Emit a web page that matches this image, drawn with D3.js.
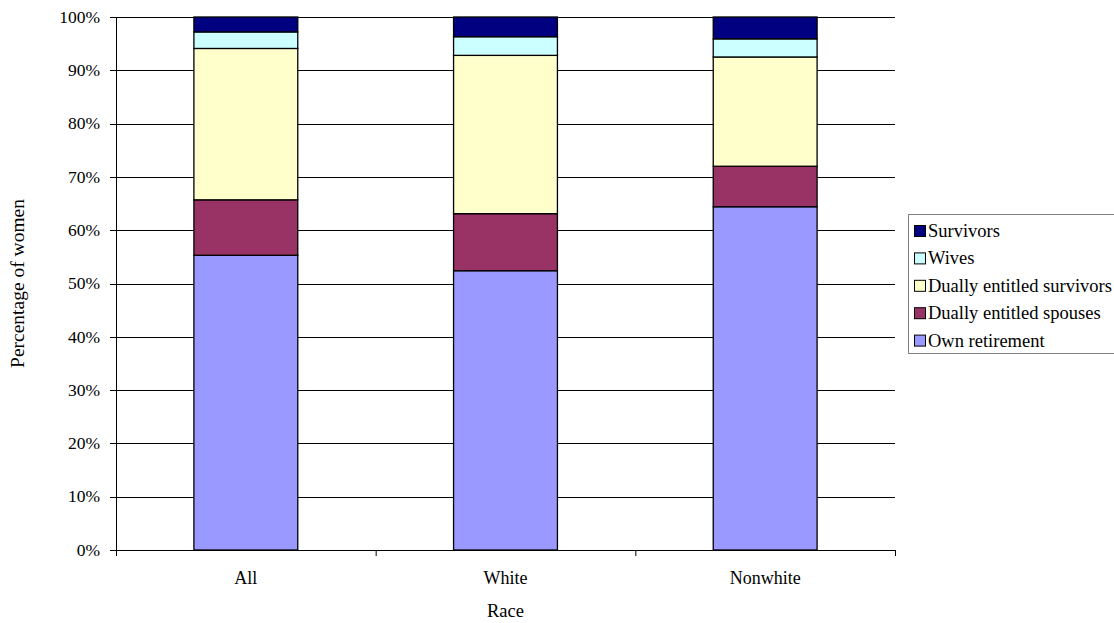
<!DOCTYPE html>
<html>
<head>
<meta charset="utf-8">
<script src="https://cdn.jsdelivr.net/npm/d3@7"></script>
</head>
<body style="margin:0;background:#fff">
<svg id="chart" width="1114" height="623"></svg>
<script>
// Share of women by type of benefit, by race (percent)
const categories = ["All", "White", "Nonwhite"];
const seriesNames = ["Own retirement", "Dually entitled spouses", "Dually entitled survivors", "Wives", "Survivors"];
const ownRetirement = [55.3, 52.4, 64.4];
const duallySpouses = [10.4, 10.7, 7.6];
const duallySurvivors = [28.4, 29.7, 20.5];
const wives = [3.1, 3.5, 3.4];
const survivors = [2.8, 3.7, 4.1];
const yTicks = [0, 10, 20, 30, 40, 50, 60, 70, 80, 90, 100];
const colors = ["#9999FF", "#993366", "#FFFFCC", "#CCFFFF", "#000080"];

const FONT = "Liberation Serif";
const setFont = (sel, size) => sel.style("font-family", `'${FONT}'`).style("font-size", size + "px");

const seriesValues = [ownRetirement, duallySpouses, duallySurvivors, wives, survivors];
const table = categories.map((c, i) => {
  const row = { category: c };
  seriesNames.forEach((s, j) => { row[s] = seriesValues[j][i]; });
  return row;
});

const svg = d3.select("#chart");
const margin = { left: 116, right: 219, top: 17, bottom: 73 };
const W = 1114, H = 623;
const innerW = W - margin.left - margin.right;
const innerH = H - margin.top - margin.bottom;
const g = svg.append("g").attr("transform", `translate(${margin.left},${margin.top})`);

const x = d3.scaleBand().domain(categories).range([0, innerW]).paddingInner(0.6).paddingOuter(0.3);
const xBand = d3.scaleBand().domain(categories).range([0, innerW]);
const y = d3.scaleLinear().domain([0, 100]).range([innerH, 0]);

// horizontal gridlines
g.append("g").selectAll("line").data(yTicks.filter(t => t > 0)).join("line")
  .attr("x1", 0).attr("x2", innerW)
  .attr("y1", d => Math.round(y(d)) + 0.5).attr("y2", d => Math.round(y(d)) + 0.5)
  .attr("stroke", "#000").attr("stroke-width", 1);

// stacked bars
const stack = d3.stack().keys(seriesNames)(table);
g.append("g").selectAll("g").data(stack).join("g")
  .attr("fill", (d, i) => colors[i])
  .selectAll("rect").data(d => d).join("rect")
  .attr("x", d => x(d.data.category))
  .attr("width", x.bandwidth())
  .attr("y", d => y(d[1]))
  .attr("height", d => y(d[0]) - y(d[1]))
  .attr("stroke", "#000").attr("stroke-width", 1.3);

// y axis, drawn by hand with the scale so the labels take the serif face
const yAxisG = g.append("g");
yAxisG.append("line").attr("x1", 0.5).attr("x2", 0.5).attr("y1", 0).attr("y2", innerH).attr("stroke", "#000");
yAxisG.selectAll("line.tick").data(yTicks).join("line").attr("class", "tick")
  .attr("x1", -6).attr("x2", 0).attr("y1", d => Math.round(y(d)) + 0.5).attr("y2", d => Math.round(y(d)) + 0.5)
  .attr("stroke", "#000");
setFont(yAxisG.selectAll("text").data(yTicks).join("text")
  .attr("x", -16).attr("y", d => y(d)).attr("dy", "0.33em")
  .attr("text-anchor", "end"), 17.5).text(d => d + "%");

// x axis: ticks at band boundaries
const xAxisG = g.append("g").attr("transform", `translate(0,${innerH})`);
xAxisG.append("line").attr("x1", 0).attr("x2", innerW).attr("y1", 0.5).attr("y2", 0.5).attr("stroke", "#000");
const bounds = [0].concat(categories.map(c => xBand(c) + xBand.bandwidth()));
xAxisG.selectAll("line.tick").data(bounds).join("line").attr("class", "tick")
  .attr("x1", d => d + 0.5).attr("x2", d => d + 0.5).attr("y1", 0).attr("y2", 6).attr("stroke", "#000");
setFont(xAxisG.selectAll("text").data(categories).join("text")
  .attr("x", d => x(d) + x.bandwidth() / 2).attr("y", 584 - margin.top - innerH)
  .attr("text-anchor", "middle"), 18).text(d => d);

// axis titles
setFont(svg.append("text").attr("x", margin.left + innerW / 2).attr("y", 617)
  .attr("text-anchor", "middle"), 18.5).text("Race");
setFont(svg.append("text").attr("transform", `translate(24,${margin.top + innerH / 2}) rotate(-90)`)
  .attr("text-anchor", "middle"), 19.5).text("Percentage of women");

// legend
const legend = svg.append("g").attr("transform", "translate(908,214)");
legend.append("rect").attr("x", 0.5).attr("y", 0.5).attr("width", 220).attr("height", 139)
  .attr("fill", "#fff").attr("stroke", "#808080");
const legendItems = seriesNames.slice().reverse();
legend.selectAll("g.item").data(legendItems).join("g").attr("class", "item")
  .attr("transform", (d, i) => `translate(0,${23 + i * 27.4})`)
  .each(function(d) {
    const idx = seriesNames.indexOf(d);
    const it = d3.select(this);
    it.append("rect").attr("x", 6.5).attr("y", -11.5).attr("width", 11).attr("height", 11)
      .attr("fill", colors[idx]).attr("stroke", "#000").attr("stroke-width", 1);
    setFont(it.append("text").attr("x", 20).attr("y", 0), 18.5).text(d);
  });
</script>
</body>
</html>
